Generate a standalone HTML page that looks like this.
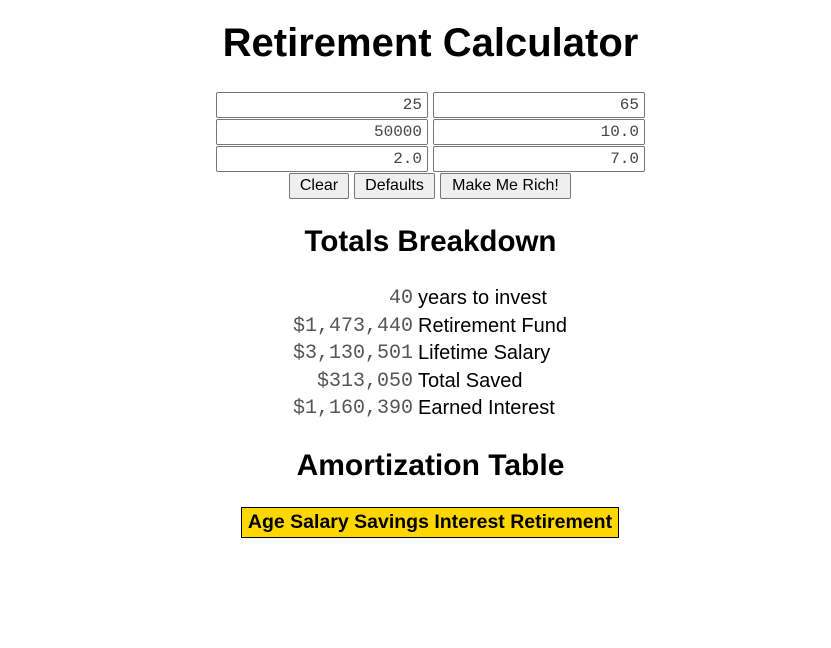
<!DOCTYPE html>
<html><head><meta charset="utf-8"><style>
body{margin:0;width:831px;height:648px;background:#fff;font-family:"Liberation Sans",Arial,sans-serif;color:#000;position:relative;overflow:hidden}
.a{position:absolute}
h1,h2{margin:0;font-weight:bold;position:absolute;left:0;width:861px;text-align:center;white-space:nowrap}
h1{font-size:40px;top:21px;}
h2{font-size:30px;}
input{position:absolute;box-sizing:border-box;width:212px;height:26px;border:1px solid #767676;border-radius:2px;font-family:"Liberation Mono",monospace;font-size:16px;text-align:right;padding:0 5px;color:#444}
button{position:absolute;box-sizing:border-box;height:26px;top:173px;font-family:"Liberation Sans",Arial,sans-serif;font-size:16px;background:#efefef;border:1px solid #767676;border-radius:2px;padding:0;color:#000}
.row{position:absolute;left:0;height:27px;font-size:20px;white-space:nowrap}
.num{position:absolute;right:418px;font-family:"Liberation Mono",monospace;color:#555;text-align:right}
.lbl{position:absolute;left:418px}
</style></head><body>
<h1>Retirement Calculator</h1>
<input style="left:216px;top:92px" value="25">
<input style="left:433px;top:92px" value="65">
<input style="left:216px;top:119px" value="50000">
<input style="left:433px;top:119px" value="10.0">
<input style="left:216px;top:146px" value="2.0">
<input style="left:433px;top:146px" value="7.0">
<button style="left:289px;width:60px">Clear</button>
<button style="left:354px;width:81px">Defaults</button>
<button style="left:440px;width:131px">Make Me Rich!</button>
<h2 style="top:225px;font-size:29.5px">Totals Breakdown</h2>
<div class="a" style="left:0;top:0;width:831px">
<div class="row" style="top:287px;width:831px"><span class="num">40</span><span class="lbl">years to invest</span></div>
<div class="row" style="top:315px;width:831px"><span class="num">$1,473,440</span><span class="lbl">Retirement Fund</span></div>
<div class="row" style="top:342px;width:831px"><span class="num">$3,130,501</span><span class="lbl">Lifetime Salary</span></div>
<div class="row" style="top:370px;width:831px"><span class="num">$313,050</span><span class="lbl">Total Saved</span></div>
<div class="row" style="top:397px;width:831px"><span class="num">$1,160,390</span><span class="lbl">Earned Interest</span></div>
</div>
<h2 style="top:449px">Amortization Table</h2>
<div class="a" style="left:241px;top:507px;width:376px;height:29px;background:#ffd700;border:1px solid #000;font-weight:bold;font-size:19.5px;line-height:29px;text-align:center;white-space:nowrap">Age Salary Savings Interest Retirement</div>
</body></html>
